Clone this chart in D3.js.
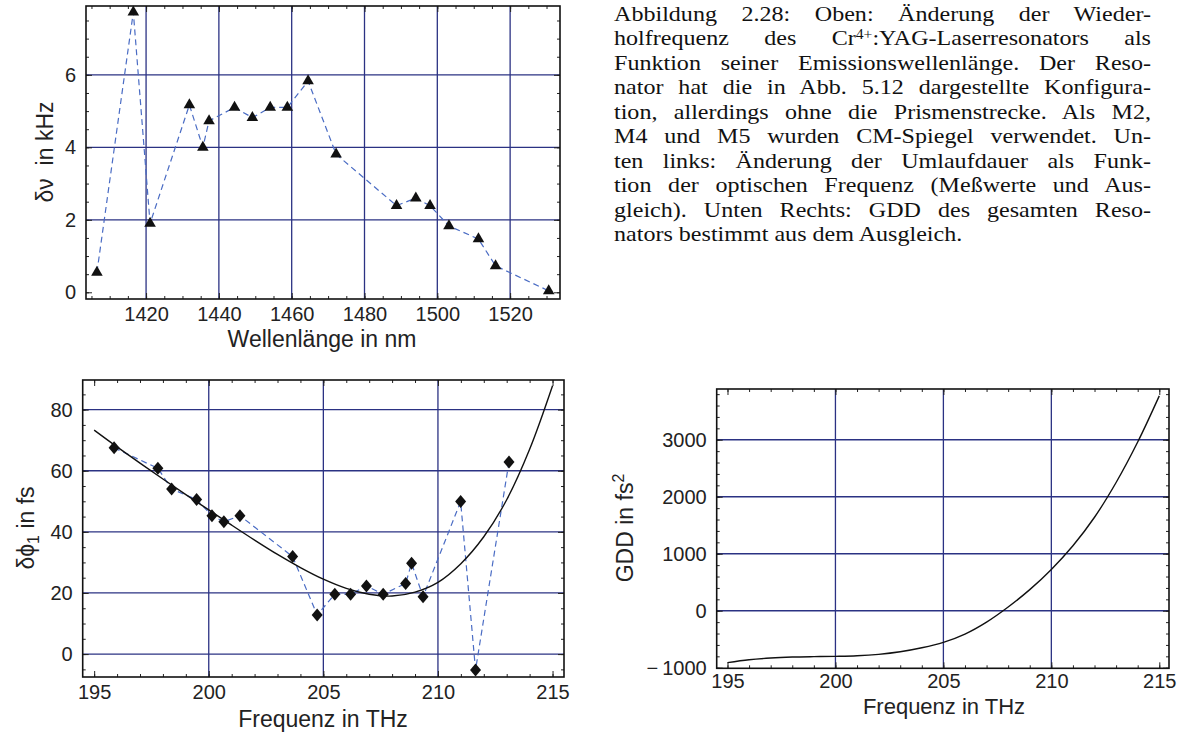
<!DOCTYPE html>
<html>
<head>
<meta charset="utf-8">
<script src="https://cdn.jsdelivr.net/npm/d3@7"></script>
<style>
body { margin: 0; background: #fff; }
svg { display: block; }
</style>
</head>
<body>
<div id="chart"></div>
<script>
// top: change of repetition frequency vs. emission wavelength
var wavelength = [1406.5, 1416.5, 1421.1, 1431.9, 1435.6, 1437.3, 1444.3, 1449.2, 1454.1, 1458.8,
                  1464.5, 1472.2, 1488.8, 1494.1, 1498.0, 1503.2, 1511.3, 1516.0, 1530.6];
var deltaNu = [0.55, 7.73, 1.9, 5.17, 4.0, 4.73, 5.1, 4.82, 5.1, 5.1,
               5.83, 3.81, 2.39, 2.6, 2.39, 1.83, 1.47, 0.73, 0.04];

// bottom left: measured change of round trip time
var freqMeas = [195.87, 197.78, 198.38, 199.47, 200.14, 200.66, 201.36, 203.66, 204.73, 205.5,
                206.19, 206.88, 207.61, 208.59, 208.85, 209.35, 210.99, 211.64, 213.1];
var deltaPhi = [67.5, 60.8, 54.0, 50.6, 45.3, 43.3, 45.3, 31.9, 12.8, 19.6,
                19.6, 22.3, 19.6, 23.1, 29.7, 18.8, 49.9, -5.2, 62.9];

// fit curve and GDD at 1 THz steps
var freqFit = [195, 196, 197, 198, 199, 200, 201, 202, 203, 204, 205,
               206, 207, 208, 209, 210, 211, 212, 213, 214, 215];
var phiFit = [73.3, 67.8, 62.5, 57.3, 52.2, 47.2, 42.2, 37.3, 32.6, 28.3, 24.5,
              21.5, 19.6, 19.0, 20.3, 23.5, 29.6, 38.4, 50.5, 67.0, 87.8];
var gddFit = [-910, -860, -830, -813, -805, -800, -790, -765, -720, -650, -555,
              -410, -200, 65, 370, 725, 1140, 1640, 2250, 2960, 3770];

// ticks
var wlTicks = [1420, 1440, 1460, 1480, 1500, 1520];
var nuTicks = [0, 2, 4, 6];
var nuGrid = [2, 4, 6];
var fTicks = [195, 200, 205, 210, 215];
var fGrid = [200, 205, 210];
var phiTicks = [0, 20, 40, 60, 80];
var gddTicks = [-1000, 0, 1000, 2000, 3000];
var gddGrid = [0, 1000, 2000, 3000];

var captionLines = [
  "Abbildung 2.28: Oben: Änderung der Wieder-",
  "holfrequenz des Cr^{4+}:YAG-Laserresonators als",
  "Funktion seiner Emissionswellenlänge. Der Reso-",
  "nator hat die in Abb. 5.12 dargestellte Konfigura-",
  "tion, allerdings ohne die Prismenstrecke. Als M2,",
  "M4 und M5 wurden CM-Spiegel verwendet. Un-",
  "ten links: Änderung der Umlaufdauer als Funk-",
  "tion der optischen Frequenz (Meßwerte und Aus-",
  "gleich). Unten Rechts: GDD des gesamten Reso-",
  "nators bestimmt aus dem Ausgleich."
];

var gridColor = '#2b3283';
var dashColor = '#4a6cc4';
var sans = "'Liberation Sans', Arial, sans-serif";

var svg = d3.select('#chart')
  .append('svg')
    .attr('width', 1185)
    .attr('height', 733)
    .style('background', '#fff');

function range(a, b, step) {
  var out = [];
  for (var v = a; v <= b + 1e-9; v += step) out.push(+v.toFixed(6));
  return out;
}

// draws frame, grid, ticks on all four sides and tick labels
function panel(opt) {
  var x = d3.scaleLinear().domain(opt.xDomain).range([opt.left, opt.right]);
  var y = d3.scaleLinear().domain(opt.yDomain).range([opt.bottom, opt.top]);
  var g = svg.append('g');

  g.selectAll('.vg').data(opt.xGrid).enter().append('line')
    .attr('x1', d => x(d)).attr('x2', d => x(d))
    .attr('y1', opt.top).attr('y2', opt.bottom)
    .attr('stroke', gridColor).attr('stroke-width', 1.3);
  g.selectAll('.hg').data(opt.yGrid).enter().append('line')
    .attr('y1', d => y(d)).attr('y2', d => y(d))
    .attr('x1', opt.left).attr('x2', opt.right)
    .attr('stroke', gridColor).attr('stroke-width', 1.3);

  var xMinor = range(opt.xMinor[0], opt.xMinor[1], opt.xMinor[2]);
  var yMinor = range(opt.yMinor[0], opt.yMinor[1], opt.yMinor[2]);
  var h = opt.bottom - opt.top, w = opt.right - opt.left;

  var axes = [
    [d3.axisBottom(x), 'translate(0,' + opt.bottom + ')', xMinor, opt.xTicks, true, opt.xPad || 8],
    [d3.axisTop(x), 'translate(0,' + opt.top + ')', xMinor, opt.xTicks, false, 0],
    [d3.axisLeft(y), 'translate(' + opt.left + ',0)', yMinor, opt.yTicks, true, 10],
    [d3.axisRight(y), 'translate(' + opt.right + ',0)', yMinor, opt.yTicks, false, 0]
  ];
  axes.forEach(function(a) {
    // minor ticks
    var ga = g.append('g').attr('transform', a[1])
      .call(a[0].tickValues(a[2]).tickSize(-3).tickFormat(''));
    ga.select('.domain').remove();
    ga.selectAll('line').attr('stroke', '#222');
    // major ticks
    var gb = g.append('g').attr('transform', a[1])
      .call(a[0].tickValues(a[3]).tickSize(-6).tickPadding(a[5])
        .tickFormat(a[4] ? (opt.fmt || d3.format('d')) : ''));
    gb.select('.domain').remove();
    gb.selectAll('line').attr('stroke', '#222');
    gb.selectAll('text').attr('font-family', sans).attr('font-size', 20).attr('fill', '#222');
  });

  g.append('rect')
    .attr('x', opt.left).attr('y', opt.top).attr('width', w).attr('height', h)
    .attr('fill', 'none').attr('stroke', '#111').attr('stroke-width', 1.6);

  return {x: x, y: y, g: g};
}

function diamond(d) {
  return 'M0,-6.5L5.5,0L0,6.5L-5.5,0Z';
}

// ---- top panel
var p1 = panel({
  left: 86, right: 560, top: 6, bottom: 299,
  xDomain: [1403.5, 1533.7], yDomain: [-0.185, 7.9],
  xTicks: wlTicks, yTicks: nuTicks, xGrid: wlTicks, yGrid: nuGrid,
  xMinor: [1405, 1530, 5], yMinor: [0, 7.5, 0.5]
});
var pts1 = d3.zip(wavelength, deltaNu);
p1.g.append('path')
  .attr('d', d3.line().x(d => p1.x(d[0])).y(d => p1.y(d[1]))(pts1))
  .attr('fill', 'none').attr('stroke', dashColor).attr('stroke-width', 1.2)
  .attr('stroke-dasharray', '6,4');
p1.g.selectAll('.tri').data(pts1).enter().append('path')
  .attr('transform', d => 'translate(' + p1.x(d[0]) + ',' + p1.y(d[1]) + ')')
  .attr('d', d3.symbol(d3.symbolTriangle, 58))
  .attr('fill', '#111');

svg.append('text').attr('x', 322).attr('y', 347).attr('text-anchor', 'middle')
  .attr('font-family', sans).attr('font-size', 23).attr('fill', '#222')
  .text('Wellenlänge in nm');
svg.append('text').attr('transform', 'translate(53,152) rotate(-90)').attr('text-anchor', 'middle')
  .attr('font-family', sans).attr('font-size', 23).attr('fill', '#222')
  .text('δν\u00a0 in kHz');

// ---- bottom left panel
var p2 = panel({
  left: 82.7, right: 564, top: 380, bottom: 677,
  xDomain: [194.5, 215.5], yDomain: [-7.5, 89.7],
  xTicks: fTicks, yTicks: phiTicks, xGrid: fGrid, yGrid: phiTicks,
  xMinor: [195, 215, 1], yMinor: [-5, 85, 5]
});
var pts2 = d3.zip(freqMeas, deltaPhi);
p2.g.append('path')
  .attr('d', d3.line().x(d => p2.x(d[0])).y(d => p2.y(d[1]))(pts2))
  .attr('fill', 'none').attr('stroke', dashColor).attr('stroke-width', 1.2)
  .attr('stroke-dasharray', '6,4');
p2.g.append('path')
  .attr('d', d3.line().curve(d3.curveCatmullRom).x(d => p2.x(d[0])).y(d => p2.y(d[1]))(d3.zip(freqFit, phiFit)))
  .attr('fill', 'none').attr('stroke', '#111').attr('stroke-width', 1.4);
p2.g.selectAll('.dia').data(pts2).enter().append('path')
  .attr('transform', d => 'translate(' + p2.x(d[0]) + ',' + p2.y(d[1]) + ')')
  .attr('d', diamond)
  .attr('fill', '#111');

svg.append('text').attr('x', 323).attr('y', 727).attr('text-anchor', 'middle')
  .attr('font-family', sans).attr('font-size', 23).attr('fill', '#222')
  .text('Frequenz in THz');
var yl2 = svg.append('text').attr('transform', 'translate(34,528) rotate(-90)').attr('text-anchor', 'middle')
  .attr('font-family', sans).attr('font-size', 23).attr('fill', '#222');
yl2.append('tspan').text('δϕ');
yl2.append('tspan').attr('font-size', 16).attr('dy', 5).text('1');
yl2.append('tspan').attr('dy', -5).text(' in fs');

// ---- bottom right panel
var p3 = panel({
  left: 716.7, right: 1169, top: 389, bottom: 668.3,
  xDomain: [194.5, 215.45], yDomain: [-1010, 3890],
  xTicks: fTicks, yTicks: gddTicks, xGrid: fGrid, yGrid: gddGrid,
  xMinor: [195, 215, 1], yMinor: [-1000, 3800, 200], xPad: 6,
  fmt: d => d < 0 ? '\u2212\u2009' + Math.abs(d) : d
});
p3.g.append('path')
  .attr('d', d3.line().curve(d3.curveCatmullRom).x(d => p3.x(d[0])).y(d => p3.y(d[1]))(d3.zip(freqFit, gddFit)))
  .attr('fill', 'none').attr('stroke', '#111').attr('stroke-width', 1.4);

svg.append('text').attr('x', 944).attr('y', 714).attr('text-anchor', 'middle')
  .attr('font-family', sans).attr('font-size', 22).attr('fill', '#222')
  .text('Frequenz in THz');
var yl3 = svg.append('text').attr('transform', 'translate(633,528) rotate(-90)').attr('text-anchor', 'middle')
  .attr('font-family', sans).attr('font-size', 23).attr('fill', '#222');
yl3.append('tspan').text('GDD in fs');
yl3.append('tspan').attr('font-size', 16).attr('dy', -9).text('2');

// ---- caption, justified line by line (glyphs widened a little, like Computer Modern)
var capLeft = 614, capRight = 1151, capTop = 21, capLead = 24.45, capScale = 1.12;
var cap = svg.append('g')
  .attr('transform', 'translate(' + capLeft + ',0) scale(' + capScale + ',1)')
  .attr('font-family', "'Liberation Serif', 'Times New Roman', serif")
  .attr('font-size', 21.5).attr('fill', '#111');
captionLines.forEach(function(line, i) {
  var t = cap.append('text').attr('x', 0).attr('y', capTop + i * capLead);
  var parts = line.split(/\^\{|\}/);
  parts.forEach(function(p, k) {
    var ts = t.append('tspan').text(p);
    if (k % 2 == 1) ts.attr('font-size', 14).attr('dy', -6.5);
    else if (k > 0) ts.attr('dy', 6.5);
  });
  if (i < captionLines.length - 1) {
    var w = t.node().getComputedTextLength();
    var spaces = line.split(' ').length - 1;
    t.attr('word-spacing', ((capRight - capLeft) / capScale - w) / spaces);
  }
});
</script>
</body>
</html>
